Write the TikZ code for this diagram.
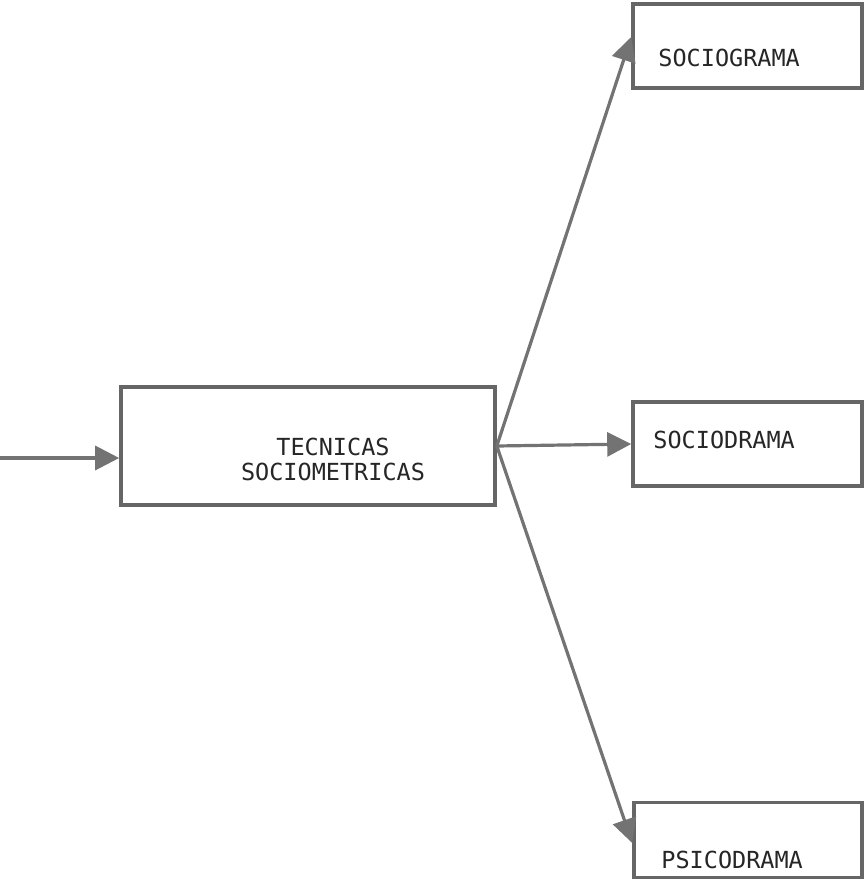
\documentclass[tikz,border=0pt]{standalone}
\usepackage{fontspec}
\setmonofont{DejaVu Sans Mono}
\usetikzlibrary{arrows.meta,positioning}

\tikzset{
	caja/.style={draw=black!60, line width=3.6pt, fill=white, rectangle},
	rotulo/.style={font=\ttfamily\fontsize{23.5}{25}\selectfont, inner sep=0pt, text=black!85},
	flecha/.style={draw=black!55, line width=3.2pt, -{Triangle[length=24pt,width=24pt]}}
}

\begin{document}
\begin{tikzpicture}[x=1pt,y=-1pt]
	\useasboundingbox (0,0) rectangle (864,890);
	% cajas
	\node[caja, minimum width=374pt, minimum height=118pt] (tecnicas) at (308,446) {};
	\node[caja, minimum width=229pt, minimum height=84pt] (sgrama) at (747.5,46) {};
	\node[caja, minimum width=229pt, minimum height=84pt] (sdrama) at (747.5,444) {};
	\node[caja, minimum width=228pt, minimum height=75pt] (pdrama) at (748,840) {};
	% textos
	\node[rotulo, align=center] (tecnicasT) at (333,459) {TECNICAS\\SOCIOMETRICAS};
	\node[rotulo, anchor=west] (sgramaT) at ([xshift=27pt,yshift=-12pt]sgrama.west) {SOCIOGRAMA};
	\node[rotulo, anchor=west] (sdramaT) at ([xshift=22pt,yshift=4pt]sdrama.west) {SOCIODRAMA};
	\node[rotulo, anchor=west] (pdramaT) at ([xshift=29pt,yshift=-20pt]pdrama.west) {PSICODRAMA};
	% flechas
	\coordinate (entrada) at (0,458);
	\draw[flecha] (entrada) -- (entrada -| tecnicas.west);
	\draw[flecha] (tecnicas.east) -- ([yshift=9pt]sgrama.west);
	\draw[flecha] (tecnicas.east) -- (sdrama.west);
	\draw[flecha] (tecnicas.east) -- ([yshift=-3pt]pdrama.west);
\end{tikzpicture}
\end{document}
